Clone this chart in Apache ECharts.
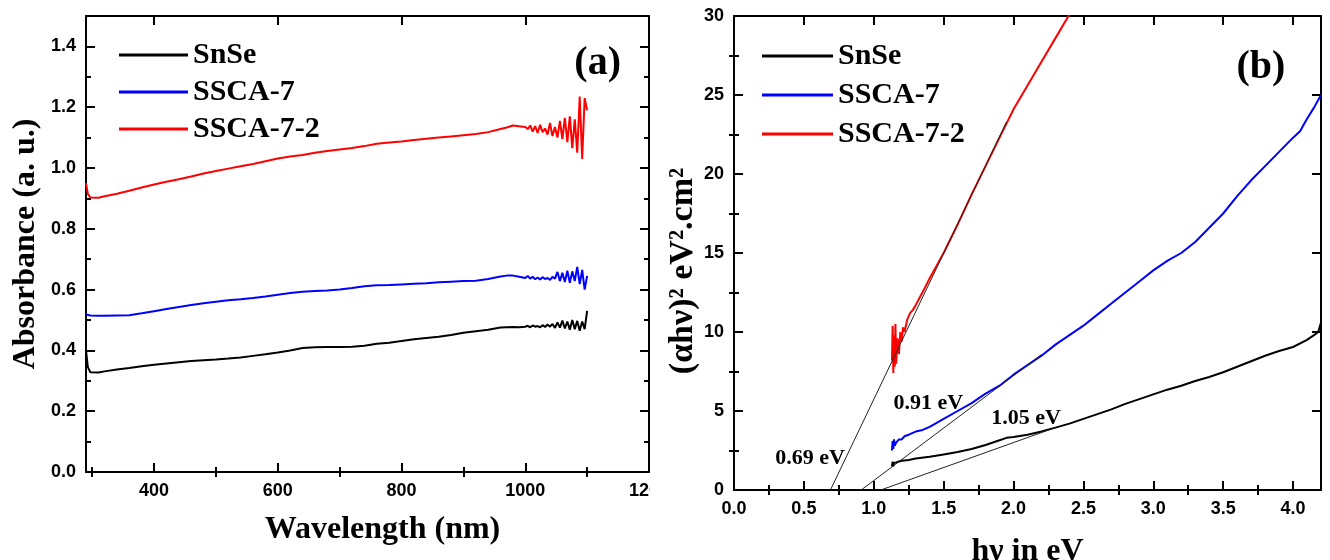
<!DOCTYPE html>
<html>
<head>
<meta charset="utf-8">
<script src="https://cdn.jsdelivr.net/npm/echarts@6/dist/echarts.min.js"></script>
<style>
html,body{margin:0;padding:0;background:#fff;}
#chart{width:1330px;height:560px;}
</style>
</head>
<body>
<div id="chart"></div>
<script>
// ---------- Panel (a): absorbance vs wavelength ----------
const wavelength = [290,293,297,300,310,320,340,360,380,400,420,440,460,480,500,520,540,560,580,600,
  620,640,660,680,700,720,740,760,780,800,820,840,860,880,900,920,940,960,970,980,990,1000,
  1004,1008,1012,1016,1020,1024,1028,1032,1036,1040,1044,1048,1052,1056,1060,1064,1068,1072,1076,1080,
  1084,1088,1092,1096,1100];
const absSnSe = [0.400,0.345,0.328,0.325,0.327,0.331,0.337,0.342,0.348,0.353,0.357,0.361,0.365,0.368,0.370,0.373,0.377,0.382,0.387,0.393,
  0.400,0.408,0.410,0.411,0.411,0.412,0.415,0.422,0.425,0.431,0.437,0.441,0.445,0.451,0.458,0.463,0.468,0.475,0.476,0.477,0.476,0.478,
  0.481,0.476,0.482,0.478,0.480,0.476,0.483,0.477,0.485,0.478,0.487,0.474,0.492,0.475,0.498,0.472,0.495,0.468,0.500,0.470,
  0.497,0.465,0.495,0.470,0.530];
const absSSCA7 = [0.518,0.516,0.515,0.515,0.514,0.514,0.515,0.516,0.522,0.529,0.536,0.543,0.549,0.555,0.560,0.565,0.568,0.572,0.577,0.583,
  0.589,0.593,0.595,0.597,0.600,0.605,0.611,0.614,0.615,0.617,0.619,0.621,0.624,0.626,0.628,0.629,0.635,0.643,0.646,0.646,0.642,0.638,
  0.645,0.636,0.642,0.634,0.640,0.633,0.641,0.635,0.638,0.632,0.642,0.636,0.658,0.628,0.655,0.625,0.662,0.622,0.660,0.628,
  0.675,0.618,0.665,0.600,0.645];
const absSSCA72 = [0.950,0.915,0.903,0.900,0.902,0.907,0.915,0.925,0.936,0.946,0.955,0.963,0.972,0.982,0.990,0.998,1.006,1.013,1.022,1.031,
  1.038,1.043,1.050,1.056,1.061,1.066,1.072,1.080,1.084,1.087,1.092,1.096,1.100,1.104,1.108,1.112,1.118,1.128,1.133,1.140,1.137,1.135,
  1.128,1.140,1.120,1.138,1.115,1.142,1.118,1.130,1.110,1.148,1.105,1.135,1.100,1.155,1.095,1.165,1.085,1.170,1.065,1.160,
  1.050,1.235,1.030,1.230,1.190];
const aXMajor = [400,600,800,1000,1200];
const aXMinor = [300,500,700,900,1100];
const aYMajor = [0,0.2,0.4,0.6,0.8,1.0,1.2,1.4];
const aYMinor = [0.1,0.3,0.5,0.7,0.9,1.1,1.3,1.5];

// ---------- Panel (b): Tauc plot ----------
const evSnSe = [1.13,1.135,1.14,1.145,1.15,1.16,1.18,1.2,1.25,1.3,1.4,1.5,1.6,1.7,1.8,1.9,1.95,2.0,2.1,2.2,2.3,2.4,2.5,2.6,2.7,2.8,2.9,
  3.0,3.1,3.2,3.3,3.4,3.5,3.6,3.7,3.8,3.9,4.0,4.1,4.15,4.18,4.2];
const taucSnSe = [1.5,1.8,1.5,1.7,1.6,1.75,1.8,1.85,1.9,2.0,2.1,2.25,2.4,2.6,2.85,3.15,3.3,3.35,3.5,3.7,3.95,4.2,4.5,4.8,5.1,5.45,5.75,
  6.05,6.35,6.6,6.9,7.15,7.45,7.8,8.15,8.5,8.8,9.05,9.5,9.8,10.0,10.6];
const evSSCA7 = [1.13,1.135,1.14,1.145,1.15,1.16,1.17,1.18,1.2,1.22,1.25,1.3,1.35,1.4,1.5,1.6,1.7,1.8,1.9,2.0,2.1,2.2,2.3,2.4,2.5,2.6,
  2.7,2.8,2.9,3.0,3.1,3.2,3.3,3.4,3.5,3.6,3.7,3.8,3.9,4.0,4.05,4.1,4.15,4.2];
const taucSSCA7 = [2.5,3.1,2.6,3.2,2.8,3.0,2.9,3.2,3.2,3.4,3.5,3.7,3.8,4.0,4.5,5.0,5.5,6.1,6.6,7.3,7.9,8.5,9.2,9.8,10.4,11.1,
  11.8,12.5,13.2,13.9,14.5,15.0,15.7,16.6,17.5,18.6,19.6,20.5,21.4,22.3,22.7,23.5,24.2,25.0];
const evSSCA72 = [1.13,1.135,1.14,1.145,1.15,1.155,1.16,1.17,1.18,1.19,1.2,1.21,1.22,1.24,1.26,1.28,1.3,1.33,1.36,1.4,1.45,1.5,
  1.6,1.7,1.8,1.9,2.0,2.1,2.2,2.3,2.4];
const taucSSCA72 = [8.2,10.4,7.4,9.8,7.8,10.5,8.0,9.6,8.6,10.0,9.4,10.3,10.0,10.8,11.2,11.4,11.7,12.2,12.7,13.4,14.2,15.0,
  16.8,18.7,20.5,22.3,24.1,25.6,27.1,28.6,30.1];
const fitSnSe = [[1.05,0],[2.3,3.95]];
const fitSSCA7 = [[0.91,0],[2.2,8.57]];
const fitSSCA72 = [[0.69,0],[1.95,23.3]];
const gapLabels = [
  {text:'0.69 eV', x:0.545, y:2.0},
  {text:'0.91 eV', x:1.39, y:5.5},
  {text:'1.05 eV', x:2.09, y:4.55}
];
const bXMajor = [0,0.5,1.0,1.5,2.0,2.5,3.0,3.5,4.0];
const bXMinor = [0.25,0.75,1.25,1.75,2.25,2.75,3.25,3.75];
const bYMajor = [0,5,10,15,20,25,30];
const bYMinor = [2.5,7.5,12.5,17.5,22.5,27.5];

const seriesNames = ['SnSe','SSCA-7','SSCA-7-2'];
const colors = ['#000000','#0000ff','#ff0000'];

const zip = (xs, ys) => xs.map((x,i)=>[x, ys[i]]);
const SERIF = "'Liberation Serif','Times New Roman',serif";
const SANS = "'Liberation Sans',Arial,sans-serif";

function makeAxes(isX, gridIndex, min, max, majors, minors, fmt, name, nameGap, namePadding, nameSize) {
  const mainPos = isX ? 'bottom' : 'left';
  const oppPos = isX ? 'top' : 'right';
  const base = {type:'value', gridIndex, min, max, splitLine:{show:false}};
  const line = {show:true, onZero:false, lineStyle:{color:'#000', width:2}};
  const tickMaj = {show:true, inside:true, length:9, customValues:majors, lineStyle:{color:'#000', width:2}};
  const tickMin = {show:true, inside:true, length:5, customValues:minors, lineStyle:{color:'#000', width:2}};
  return [
    Object.assign({}, base, {
      position: mainPos, axisLine: line, axisTick: tickMaj,
      axisLabel: {show:true, customValues:majors, formatter: fmt, margin: 10,
        fontFamily: SANS, fontWeight:'bold', fontSize:18, color:'#000'},
      name: name, nameLocation:'middle', nameGap: nameGap,
      nameTextStyle: {fontFamily: SERIF, fontWeight:'bold', fontSize:nameSize, color:'#000', padding: namePadding}
    }),
    Object.assign({}, base, {position: mainPos, axisLine:{show:false}, axisTick: tickMin, axisLabel:{show:false}}),
    Object.assign({}, base, {position: oppPos, axisLine: line, axisTick: tickMaj, axisLabel:{show:false}}),
    Object.assign({}, base, {position: oppPos, axisLine:{show:false}, axisTick: tickMin, axisLabel:{show:false}})
  ];
}

const xAxes = [].concat(
  makeAxes(true, 0, 290, 1200, aXMajor, aXMinor, v => String(v), 'Wavelength (nm)', 42, [0,0,0,30], 32),
  makeAxes(true, 1, 0, 4.2, bXMajor, bXMinor, v => Number(v).toFixed(1), 'hν in eV', 46, [0,0,0,0], 32)
);
const yAxes = [].concat(
  makeAxes(false, 0, 0, 1.5, aYMajor, aYMinor, v => Number(v).toFixed(1), 'Absorbance (a. u.)', 44, [0,0,0,0], 32),
  makeAxes(false, 1, 0, 30, bYMajor, bYMinor, v => String(v), '(αhν)² eV².cm²', 33, [0,36,0,0], 34)
);

function dataLine(name, data, color, axisIdx) {
  return {type:'line', name, data, xAxisIndex:axisIdx, yAxisIndex:axisIdx, symbol:'none',
    lineStyle:{color, width:2}, itemStyle:{color}, z:3};
}
function fitLine(data) {
  return {type:'line', data, xAxisIndex:4, yAxisIndex:4, symbol:'none', silent:true,
    lineStyle:{color:'#222', width:1}, z:4};
}
function textMarks(axisIdx, items, size) {
  return {type:'scatter', xAxisIndex:axisIdx, yAxisIndex:axisIdx, symbolSize:0, silent:true,
    itemStyle:{opacity:1},
    data: items.map(g => ({value:[g.x, g.y], name:g.text})),
    label:{show:true, position:'inside', formatter: p => p.name,
      fontFamily: SERIF, fontWeight:'bold', fontSize:size, color:'#000', opacity:1}};
}

const series = [
  dataLine(seriesNames[0], zip(wavelength, absSnSe), colors[0], 0),
  dataLine(seriesNames[1], zip(wavelength, absSSCA7), colors[1], 0),
  dataLine(seriesNames[2], zip(wavelength, absSSCA72), colors[2], 0),
  dataLine(seriesNames[0], zip(evSnSe, taucSnSe), colors[0], 4),
  dataLine(seriesNames[1], zip(evSSCA7, taucSSCA7), colors[1], 4),
  dataLine(seriesNames[2], zip(evSSCA72, taucSSCA72), colors[2], 4),
  fitLine(fitSnSe), fitLine(fitSSCA7), fitLine(fitSSCA72),
  textMarks(4, gapLabels, 22),
  textMarks(0, [{text:'(a)', x:1117, y:1.342}], 40),
  textMarks(4, [{text:'(b)', x:3.77, y:26.7}], 40)
];

const legendCommon = {
  data: seriesNames, orient:'vertical', selectedMode:false,
  icon:'rect', itemHeight:3,
  textStyle:{fontFamily: SERIF, fontWeight:'bold', fontSize:30, color:'#000', lineHeight:28}
};

const option = {
  backgroundColor:'#ffffff',
  animation:false,
  grid:[
    {left:86, top:16, width:563, height:456, outerBoundsMode:'none', containLabel:false},
    {left:734, top:16, width:587, height:474, outerBoundsMode:'none', containLabel:false}
  ],
  xAxis: xAxes,
  yAxis: yAxes,
  legend:[
    Object.assign({}, legendCommon, {left:114, top:35, itemGap:7, itemWidth:69}),
    Object.assign({}, legendCommon, {left:757, top:36, itemGap:9, itemWidth:71})
  ],
  graphic:[
    {type:'rect', shape:{x:650, y:478, width:45, height:28}, style:{fill:'#ffffff'}, z:100}
  ],
  series
};

const chart = echarts.init(document.getElementById('chart'), null, {renderer:'canvas'});
chart.setOption(option);
</script>
</body>
</html>
